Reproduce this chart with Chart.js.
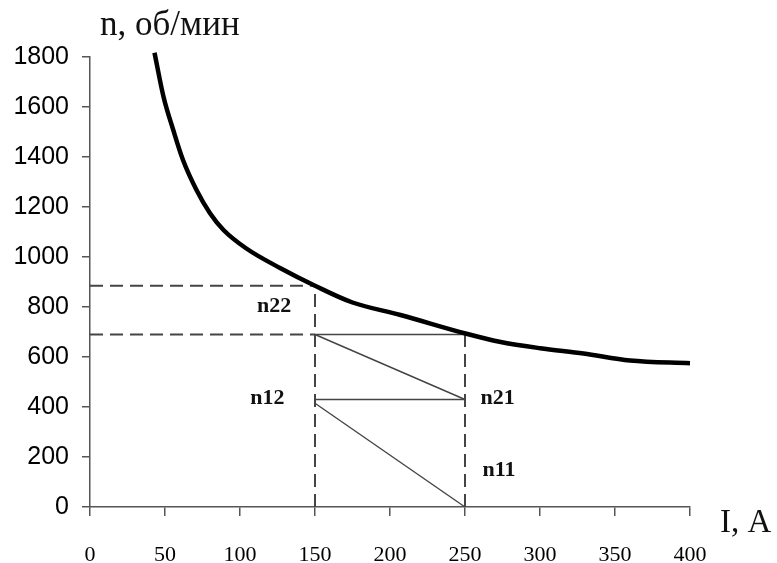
<!DOCTYPE html>
<html>
<head>
<meta charset="utf-8">
<script src="https://cdn.jsdelivr.net/npm/chart.js@4.4.0/dist/chart.umd.min.js"></script>
<style>
  html, body { margin: 0; padding: 0; background: #fff; }
  #wrap { width: 777px; height: 563px; }
</style>
</head>
<body>
<div id="wrap"><canvas id="chart" width="777" height="563"></canvas></div>
<script>
// speed characteristic n(I)
const currentI = [43, 49, 55.5, 62, 71, 80, 89, 104, 127, 150, 175, 207, 251, 273, 300, 329, 360, 400];
const speedN = [1817, 1641, 1508, 1388, 1268, 1175, 1108, 1035, 955, 885, 818, 768, 693, 661, 635, 614, 586, 575];

// construction lines: [I1, n1, I2, n2]
const dashedLines = [
    [0, 885, 150, 885],
    [150, 0, 150, 885],
    [0, 690, 150, 690],
    [250, 0, 250, 690]
];
const solidLines = [
    [150, 690, 250, 690],
    [150, 690, 250, 430],
    [150, 430, 250, 430],
    [150, 415, 250, 0]
];

// point labels
const markText = ['n22', 'n12', 'n21', 'n11'];
const markI = [122.7, 118.3, 271.7, 272.7];
const markN = [804, 436, 436, 148];

const xTicks = [0, 50, 100, 150, 200, 250, 300, 350, 400];
const yTicks = [0, 200, 400, 600, 800, 1000, 1200, 1400, 1600, 1800];

const datasets = [{
    data: currentI.map((v, i) => ({x: v, y: speedN[i]})),
    borderColor: '#000',
    borderWidth: 4.5,
    pointRadius: 0,
    cubicInterpolationMode: 'monotone',
    clip: false
}];
dashedLines.forEach(l => datasets.push({
    data: [{x: l[0], y: l[1]}, {x: l[2], y: l[3]}],
    borderColor: '#444',
    borderWidth: 2,
    borderDash: [13, 7],
    pointRadius: 0,
    clip: false
}));
solidLines.forEach(l => datasets.push({
    data: [{x: l[0], y: l[1]}, {x: l[2], y: l[3]}],
    borderColor: '#444',
    borderWidth: 1.4,
    pointRadius: 0,
    clip: false
}));

const textPlugin = {
    id: 'texts',
    afterDatasetsDraw(chart) {
        const ctx = chart.ctx;
        const xs = chart.scales.x, ys = chart.scales.y;
        ctx.save();
        ctx.fillStyle = '#111';
        ctx.textAlign = 'center';
        ctx.textBaseline = 'middle';
        ctx.font = 'bold 22px "Liberation Serif"';
        markText.forEach((t, i) => {
            ctx.fillText(t, xs.getPixelForValue(markI[i]), ys.getPixelForValue(markN[i]));
        });
        ctx.textAlign = 'left';
        ctx.textBaseline = 'alphabetic';
        ctx.font = '35px "Liberation Serif"';
        ctx.fillText('n, об/мин', xs.left + 10, 35);
        ctx.font = '33px "Liberation Serif"';
        ctx.fillText('I, A', xs.right + 30, ys.bottom + 25);
        ctx.restore();
    }
};

new Chart(document.getElementById('chart').getContext('2d'), {
    type: 'line',
    data: { datasets: datasets },
    plugins: [textPlugin],
    options: {
        responsive: false,
        animation: false,
        layout: { padding: { left: 0, top: 57, right: 87, bottom: 0 } },
        scales: {
            x: {
                type: 'linear',
                min: 0,
                max: 400,
                afterFit: s => { s.height = 56; },
                afterBuildTicks: s => { s.ticks = xTicks.map(v => ({value: v})); },
                grid: { drawOnChartArea: false, drawTicks: true, tickLength: 9, color: '#555', lineWidth: 1.5 },
                border: { color: '#555', width: 1.5 },
                ticks: { color: '#000', padding: 26, font: { family: 'Liberation Serif', size: 22 },
                         callback: v => String(v) }
            },
            y: {
                type: 'linear',
                min: 0,
                max: 1800,
                afterFit: s => { s.width = 90; },
                afterBuildTicks: s => { s.ticks = yTicks.map(v => ({value: v})); },
                grid: { drawOnChartArea: false, drawTicks: true, tickLength: 8, color: '#555', lineWidth: 1.5 },
                border: { color: '#555', width: 1.5 },
                ticks: { color: '#000', padding: 13, font: { family: 'Liberation Sans', size: 25 },
                         callback: v => String(v) }
            }
        },
        plugins: {
            legend: { display: false },
            tooltip: { enabled: false }
        }
    }
});
</script>
</body>
</html>
